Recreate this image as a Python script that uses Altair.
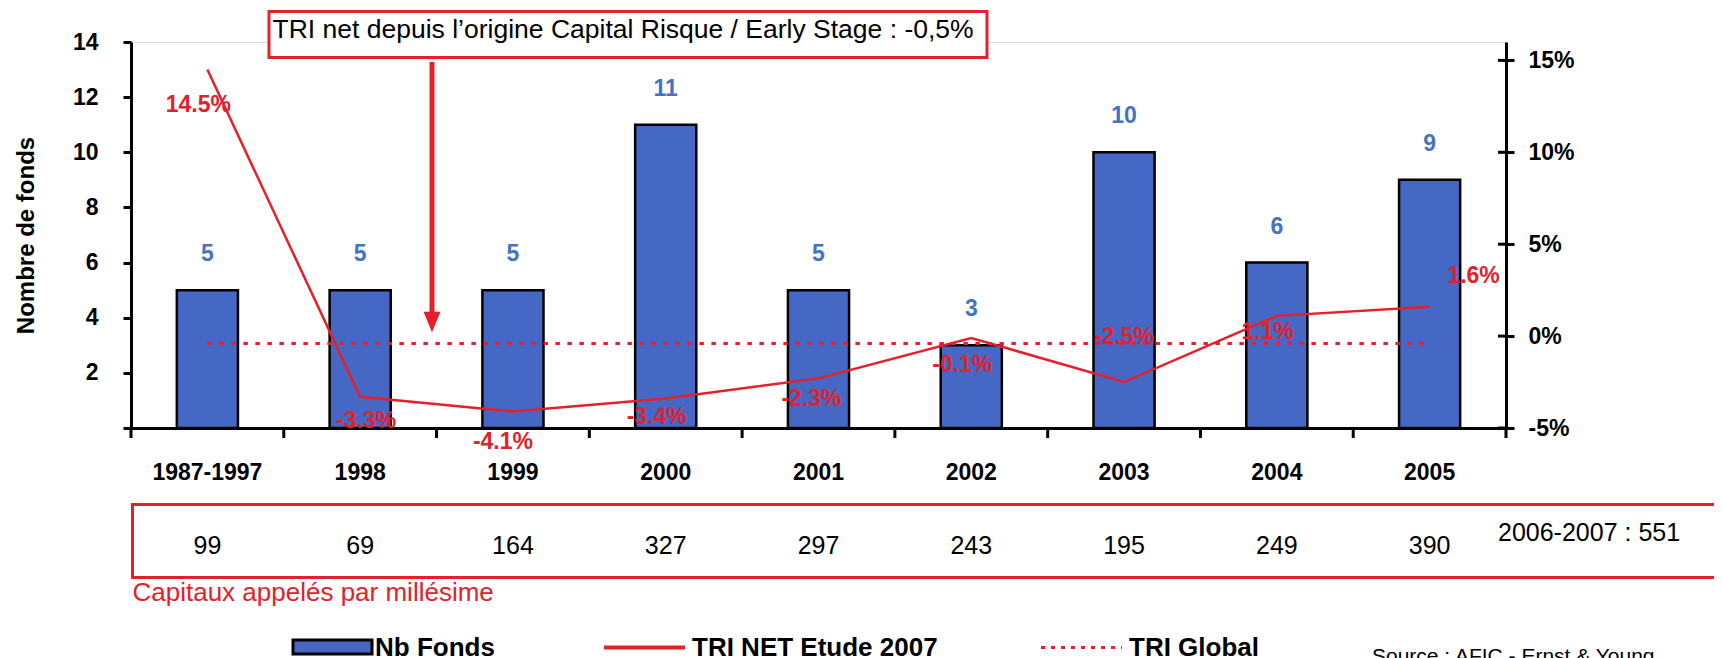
import altair as alt
import pandas as pd

# ---------------- data ----------------
categories = ["1987-1997", "1998", "1999", "2000", "2001", "2002", "2003", "2004", "2005"]
nb_fonds = [5, 5, 5, 11, 5, 3, 10, 6, 9]
tri_net = [14.5, -3.3, -4.1, -3.4, -2.3, -0.1, -2.5, 1.1, 1.6]
tri_global = -0.4
capitaux = [99, 69, 164, 327, 297, 243, 195, 249, 390]
capitaux_later = "2006-2007 : 551"
left_ticks = [0, 2, 4, 6, 8, 10, 12, 14]
right_ticks = [-5, 0, 5, 10, 15]
annotation = "TRI net depuis l\u2019origine Capital Risque / Early Stage : -0,5%"
table_caption = "Capitaux appelés par millésime"
legend_labels = ["Nb Fonds", "TRI NET Etude 2007", "TRI Global"]
source = "Source : AFIC - Ernst & Young"

# ---------------- style ----------------
FONT = "Liberation Sans"
RED = "#E4202A"
BLUE = "#4468C4"
LABEL_BLUE = "#4472C4"
W, H = 1375, 386
# label offsets (dx, dy) for the TRI NET labels, as placed in the original
tri_label_offsets = [(-9, 35), (6, 24), (-10, 31), (-9, 18), (-7, 21), (-9, 27), (0, -45), (-9, 16), (44, -31)]

df = pd.DataFrame({"cat": categories, "nb": nb_fonds, "tri": tri_net, "cap": capitaux})
df["tri_lbl"] = [f"{v:.1f}%" for v in tri_net]
one = pd.DataFrame({"k": [0]})

x_scale = alt.Scale(domain=categories, paddingInner=0, paddingOuter=0)
x_axis = alt.Axis(labelAngle=0, ticks=False, domainWidth=3, domainColor="black",
                  labelFont=FONT, labelFontSize=23, labelFontWeight="bold",
                  labelColor="black", labelPadding=33, title=None)
x_main = alt.X("cat:N", scale=x_scale, axis=x_axis, title=None)

left_scale = alt.Scale(domain=[0, 14], nice=False)
left_axis = alt.Axis(values=left_ticks, grid=False, tickSize=8, tickWidth=3, tickColor="black",
                     domainWidth=3, domainColor="black", labelFont=FONT, labelFontSize=23,
                     labelFontWeight="bold", labelColor="black", labelPadding=25,
                     labelExpr="datum.value == 0 ? '' : datum.label",
                     title="Nombre de fonds", titleFont=FONT, titleFontSize=24,
                     titleFontWeight="bold", titleColor="black", titleX=-105, titleY=H / 2,
                     titleAngle=270, titleAlign="center", titleBaseline="middle")
y_left = alt.Y("nb:Q", scale=left_scale, axis=left_axis, title="Nombre de fonds")

right_scale = alt.Scale(domain=[-5, 16], nice=False, zero=False)
right_axis = alt.Axis(orient="right", values=right_ticks, grid=False, tickSize=8, tickWidth=3,
                      tickColor="black", domainWidth=3, domainColor="black", labelFont=FONT,
                      labelFontSize=23, labelFontWeight="bold", labelColor="black",
                      labelPadding=14, labelExpr="datum.value + '%'", title=None)
y_right = alt.Y("tri:Q", scale=right_scale, axis=right_axis, title=None)

base = alt.Chart(df)

# ---------------- left group (bars) ----------------
bars = base.mark_bar(width=alt.RelativeBandSize(0.4), color=BLUE, stroke="black",
                     strokeWidth=2.5).encode(x=x_main, y=y_left)
bar_labels = base.mark_text(dy=-36, font=FONT, fontSize=23, fontWeight="bold", color=LABEL_BLUE,
                            baseline="middle").encode(x=x_main, y=y_left, text="nb:Q")

x_ticks = base.mark_rule(color="black", strokeWidth=3).encode(
    x=alt.X("cat:N", scale=x_scale, axis=x_axis, title=None, bandPosition=0),
    y=alt.value(H), y2=alt.value(H + 10))
x_tick_end = alt.Chart(one).mark_rule(color="black", strokeWidth=3).encode(
    x=alt.value(W), y=alt.value(H), y2=alt.value(H + 10))

# annotation box + arrow
ann_box = alt.Chart(one).mark_rect(fill="white", stroke=RED, strokeWidth=3).encode(
    x=alt.value(138), x2=alt.value(856), y=alt.value(-30.5), y2=alt.value(15.5))
ann_text = alt.Chart(pd.DataFrame({"t": [annotation]})).mark_text(
    font=FONT, fontSize=26.5, color="black", align="left", baseline="alphabetic").encode(
    x=alt.value(141.5), y=alt.value(-4), text="t:N")
arrow_shaft = alt.Chart(one).mark_rule(color=RED, strokeWidth=5).encode(
    x=alt.value(301), y=alt.value(20), y2=alt.value(272))
arrow_head = alt.Chart(one).mark_point(shape="M-1,-1.2L1,-1.2L0,1.2Z", size=289, filled=True,
                                       color=RED, opacity=1).encode(
    x=alt.value(301), y=alt.value(280))

# table of called capital
table_box = alt.Chart(one).mark_rect(fill=None, stroke=RED, strokeWidth=3).encode(
    x=alt.value(1.5), x2=alt.value(1640), y=alt.value(462.5), y2=alt.value(535.5))
table_nums = base.mark_text(font=FONT, fontSize=25, color="black", baseline="middle").encode(
    x=x_main, y=alt.value(504), text="cap:Q")
table_extra = alt.Chart(pd.DataFrame({"t": [capitaux_later]})).mark_text(
    font=FONT, fontSize=25, color="black", align="left", baseline="middle").encode(
    x=alt.value(1367), y=alt.value(490.5), text="t:N")
table_cap = alt.Chart(pd.DataFrame({"t": [table_caption]})).mark_text(
    font=FONT, fontSize=26, color=RED, align="left", baseline="middle").encode(
    x=alt.value(1.5), y=alt.value(550.5), text="t:N")

# legend
leg_swatch = alt.Chart(one).mark_rect(fill=BLUE, stroke="black", strokeWidth=3).encode(
    x=alt.value(162), x2=alt.value(241), y=alt.value(598), y2=alt.value(612))
leg_line = alt.Chart(one).mark_rule(color=RED, strokeWidth=4).encode(
    x=alt.value(473), x2=alt.value(554), y=alt.value(605.5))
leg_dot = alt.Chart(one).mark_rule(color=RED, strokeWidth=3, strokeDash=[4, 6]).encode(
    x=alt.value(910), x2=alt.value(991), y=alt.value(605.5))
leg_df = pd.DataFrame({"t": legend_labels, "pos": [0, 1, 2]})
leg_texts = []
for i, xpos in enumerate([244, 561, 998]):
    leg_texts.append(alt.Chart(leg_df).transform_filter(f"datum.pos == {i}").mark_text(
        font=FONT, fontSize=26, fontWeight="bold", color="black", align="left",
        baseline="alphabetic").encode(x=alt.value(xpos), y=alt.value(613.5), text="t:N"))
src = alt.Chart(pd.DataFrame({"t": [source]})).mark_text(
    font=FONT, fontSize=21, color="black", align="left", baseline="alphabetic").encode(
    x=alt.value(1241), y=alt.value(621), text="t:N")

left_group = alt.layer(bars, bar_labels, x_ticks, x_tick_end, table_box, table_nums, table_extra,
                       table_cap, leg_swatch, leg_line, leg_dot, *leg_texts, src)

# ---------------- right group (TRI lines) ----------------
tri_line = base.mark_line(color=RED, strokeWidth=2.5).encode(x=x_main, y=y_right)
glob_df = pd.DataFrame({"cat": [categories[0], categories[-1]], "tri": [tri_global, tri_global]})
tri_glob = alt.Chart(glob_df).mark_line(color=RED, strokeWidth=3, strokeDash=[4.5, 7.5]).encode(
    x=x_main, y=y_right)
right_inner_ticks = alt.Chart(pd.DataFrame({"tri": right_ticks})).mark_rule(
    color="black", strokeWidth=3).encode(x=alt.value(W - 8), x2=alt.value(W), y=y_right)

tri_labels = []
for i, (dx, dy) in enumerate(tri_label_offsets):
    tri_labels.append(base.transform_filter(f"datum.cat == '{categories[i]}'").mark_text(
        dx=dx, dy=dy, font=FONT, fontSize=23, fontWeight="bold", color=RED, baseline="middle").encode(
        x=x_main, y=y_right, text="tri_lbl:N"))

right_group = alt.layer(tri_glob, tri_line, right_inner_ticks, *tri_labels, ann_box, ann_text,
                        arrow_shaft, arrow_head)

chart = alt.layer(left_group, right_group).resolve_scale(y="independent").properties(
    width=W, height=H,
    autosize=alt.AutoSizeParams(type="none"),
    padding={"left": 123, "top": 34, "right": 208, "bottom": 230},
).configure_view(strokeWidth=0).configure(background="white")

chart.save("out.html", embed_options={"renderer": "svg", "actions": False})
